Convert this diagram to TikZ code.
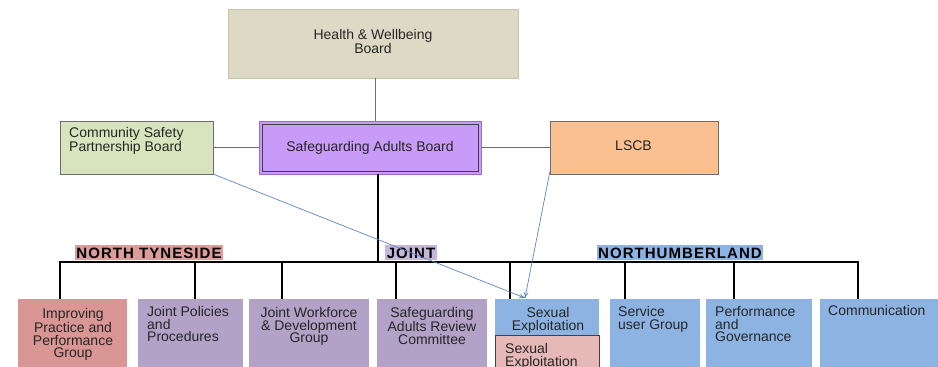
\documentclass[tikz,border=0pt]{standalone}
\usepackage{fontspec}
\setmainfont{Liberation Sans}
\usetikzlibrary{arrows.meta}
\definecolor{hwfill}{HTML}{DDD9C4}
\definecolor{hwdraw}{HTML}{C9C3A8}
\definecolor{csfill}{HTML}{D7E4BD}
\definecolor{sabfill}{HTML}{C99BF8}
\definecolor{sabout}{HTML}{9A6CD0}
\definecolor{lsfill}{HTML}{FAC090}
\definecolor{boxdraw}{HTML}{6D6D6D}
\definecolor{ntfill}{HTML}{D99694}
\definecolor{jtfill}{HTML}{B3A2C7}
\definecolor{nbfill}{HTML}{8DB3E2}
\definecolor{pkfill}{HTML}{E6B9B8}
\definecolor{ntlab}{HTML}{DC9C9A}
\definecolor{jtlab}{HTML}{C4B7DA}
\definecolor{txtc}{HTML}{262626}
\definecolor{linkc}{HTML}{6E6E6E}
\definecolor{arrc}{HTML}{5B86C0}
\begin{document}
\begin{tikzpicture}[x=1pt,y=-1pt,
  box/.style={anchor=north west,inner sep=0pt,outer sep=0pt},
  topbox/.style={box,draw=boxdraw,line width=0.9pt},
  lowbox/.style={box,draw=none},
  txt/.style={inner sep=0pt,text=txtc,font=\fontsize{14}{12.8}\selectfont},
  grp/.style={inner sep=0pt,inner xsep=1.5pt,text height=13pt,text depth=2pt,
    font=\fontsize{15}{15}\bfseries\addfontfeatures{LetterSpace=7}\selectfont,text=black},
  thinlink/.style={draw=linkc,line width=0.9pt},
  thicklink/.style={draw=black,line width=2.8pt},
  bluearrow/.style={draw=arrc,line width=0.7pt,-{To[length=6pt,width=5pt]}}]
\useasboundingbox (0,0) rectangle (938,367);
% top boxes
\node[box,draw=hwdraw,line width=0.9pt,fill=hwfill,minimum width=290pt,minimum height=69pt] (hw) at (228,9) {};
\node[topbox,fill=csfill,minimum width=153pt,minimum height=53pt] (cs) at (60,121) {};
\node[box,draw=sabout,line width=0.9pt,fill=sabfill,minimum width=222pt,minimum height=53pt] (sab) at (259,121) {};
\node[box,draw=black!75,line width=0.9pt,minimum width=216pt,minimum height=47pt] (sabin) at (262,124) {};
\node[topbox,fill=lsfill,minimum width=168pt,minimum height=53pt] (ls) at (550,121) {};
% top texts
\node[txt,anchor=north,align=center] (hwt) at (373,29) {Health \& Wellbeing\\Board};
\node[txt,anchor=north west,align=left] (cst) at (69,127) {Community Safety\\Partnership Board};
\node[txt,anchor=base] (sabt) at (370,151) {Safeguarding Adults Board};
\node[txt,anchor=base] (lst) at (633.5,150) {LSCB};
% bottom boxes
\node[lowbox,fill=ntfill,minimum width=109pt,minimum height=75pt] (b1) at (18,299) {};
\node[lowbox,fill=jtfill,minimum width=105pt,minimum height=75pt] (b2) at (138,299) {};
\node[lowbox,fill=jtfill,minimum width=120pt,minimum height=75pt] (b3) at (249,299) {};
\node[lowbox,fill=jtfill,minimum width=110pt,minimum height=75pt] (b4) at (377,299) {};
\node[lowbox,fill=nbfill,minimum width=104pt,minimum height=75pt] (b5) at (495,299) {};
\node[box,draw=black!75,line width=0.8pt,fill=pkfill,minimum width=104pt,minimum height=40pt] (b5p) at (495,335) {};
\node[lowbox,fill=nbfill,minimum width=90pt,minimum height=75pt] (b6) at (610,299) {};
\node[lowbox,fill=nbfill,minimum width=106pt,minimum height=75pt] (b7) at (706,299) {};
\node[lowbox,fill=nbfill,minimum width=125pt,minimum height=75pt] (b8) at (820,299) {};
% bottom texts
\node[txt,anchor=north,align=center] (b1t) at (73,308) {Improving\\Practice and\\Performance\\Group};
\node[txt,anchor=north west,align=left] (b2t) at (147,306) {Joint Policies\\and\\Procedures};
\node[txt,anchor=north,align=center] (b3t) at (309,307) {Joint Workforce\\\& Development\\Group};
\node[txt,anchor=north,align=center] (b4t) at (432,307) {Safeguarding\\Adults Review\\Committee};
\node[txt,anchor=north,align=center] (b5t) at (548,307) {Sexual\\Exploitation};
\node[txt,anchor=north west,align=left] (b5pt) at (505,343) {Sexual\\Exploitation};
\node[txt,anchor=north west,align=left] (b6t) at (618,306) {Service\\user Group};
\node[txt,anchor=north west,align=left] (b7t) at (715,306) {Performance\\and\\Governance};
\node[txt,anchor=north west,align=left] (b8t) at (828,305) {Communication};
% group labels
\node[grp,fill=ntlab,anchor=base] (lnt) at (149,258) {NORTH TYNESIDE};
\node[grp,fill=jtlab,anchor=base] (ljt) at (411,258) {JOINT};
\node[grp,fill=nbfill,anchor=base] (lnb) at (680,258) {NORTHUMBERLAND};
% connectors
\draw[thinlink] (hw.south -| 375,0) -- (sab.north -| 375,0);
\draw[thinlink] (cs.east) -- (sab.west);
\draw[thinlink] (sab.east) -- (ls.west);
\coordinate (bus) at (378,262);
\coordinate (busl) at (60,262);
\coordinate (busr) at (858,262);
\draw[thicklink] (sab.south -| bus) -- (bus);
\draw[thicklink,line cap=rect] (busl) -- (busr);
\draw[thicklink] (busl) -- (b1.north -| busl);
\draw[thicklink] (195,262) -- (b2.north -| 195,0);
\draw[thicklink] (282,262) -- (b3.north -| 282,0);
\draw[thicklink] (396,262) -- (b4.north -| 396,0);
\draw[thicklink] (510,262) -- (b5.north -| 510,0);
\draw[thicklink] (625,262) -- (b6.north -| 625,0);
\draw[thicklink] (734,262) -- (b7.north -| 734,0);
\draw[thicklink] (busr) -- (b8.north -| busr);
\coordinate (tip) at (525,298);
\draw[bluearrow] (cs.south east) -- (tip);
\draw[bluearrow] ([yshift=3pt]ls.south west) -- (tip);
\end{tikzpicture}
\end{document}
